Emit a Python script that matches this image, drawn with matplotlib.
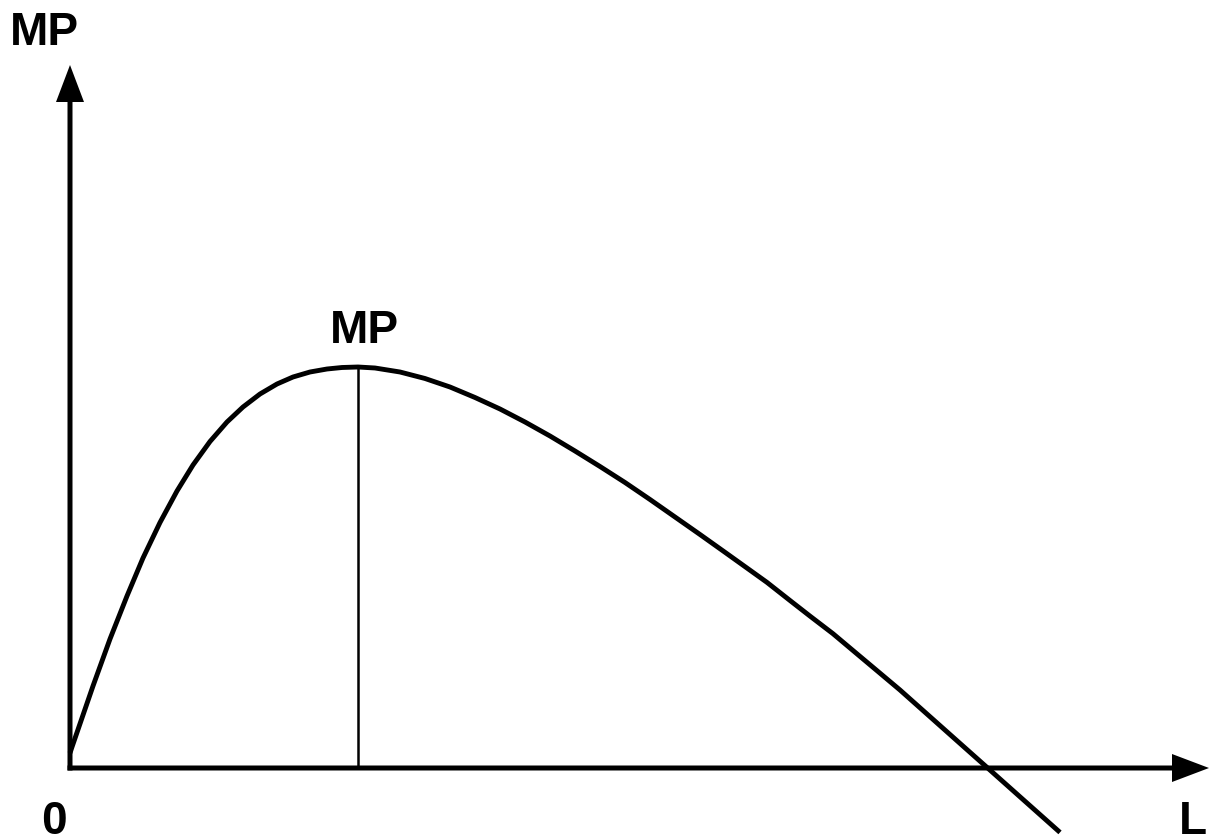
import matplotlib
matplotlib.use("Agg")
import matplotlib.pyplot as plt

# marginal product curve (origin at the axes corner)
L = [0, 2, 23, 40, 57, 73, 90, 107, 123, 140, 157, 173, 190, 207, 223, 240,
     257, 272, 288, 305, 330, 355, 380, 405, 430, 455, 480, 505, 530, 555,
     580, 605, 630, 655, 680, 697, 720, 740, 763, 785, 808, 830, 860, 890,
     917, 950, 990]
MP = [15, 21, 82, 129, 172, 210, 245.5, 277, 303, 326.5, 346, 361, 374, 384,
      391, 396, 399, 400.5, 401, 400, 396, 389.5, 381, 370.5, 359, 346, 332,
      317, 301.5, 285.5, 268.5, 251, 233.5, 215.7, 197.8, 185.6, 167.5, 151.9,
      134.3, 115.8, 96.5, 78, 51.3, 24.6, 0.6, -28.8, -64.4]

L_peak = 288
MP_peak = 401
x_axis_end = 1139
y_axis_end = 703

plt.rcParams['font.family'] = ['Liberation Sans', 'DejaVu Sans']

fig = plt.figure(figsize=(12.09, 8.39), dpi=100)
ax = fig.add_axes([0, 0, 1, 1])
ax.set_xlim(-70, 1139)
ax.set_ylim(-71, 768)
ax.axis('off')

# axes with arrow heads
ax.arrow(-2.5, 0, x_axis_end + 2.5, 0, width=5, head_width=28, head_length=37,
         length_includes_head=True, fc='black', ec='none')
ax.arrow(0, -2.5, 0, y_axis_end + 2.5, width=5, head_width=28, head_length=37,
         length_includes_head=True, fc='black', ec='none')

# curve and the line down from its peak
ax.plot(L, MP, color='black', lw=3.5, solid_capstyle='butt',
        solid_joinstyle='round', zorder=3)
ax.plot([L_peak, L_peak], [0, MP_peak], color='black', lw=1.8)

fs = 33
ax.text(-60, 723, 'MP', fontsize=fs, fontweight='bold', ha='left', va='baseline')
ax.text(294, 425, 'MP', fontsize=fs, fontweight='bold', ha='center', va='baseline')
ax.text(-16.5, -66, '0', fontsize=fs, fontweight='bold', ha='center', va='baseline')
ax.text(1109, -66, 'L', fontsize=fs, fontweight='bold', ha='left', va='baseline')

fig.savefig('out.png', dpi=100)
